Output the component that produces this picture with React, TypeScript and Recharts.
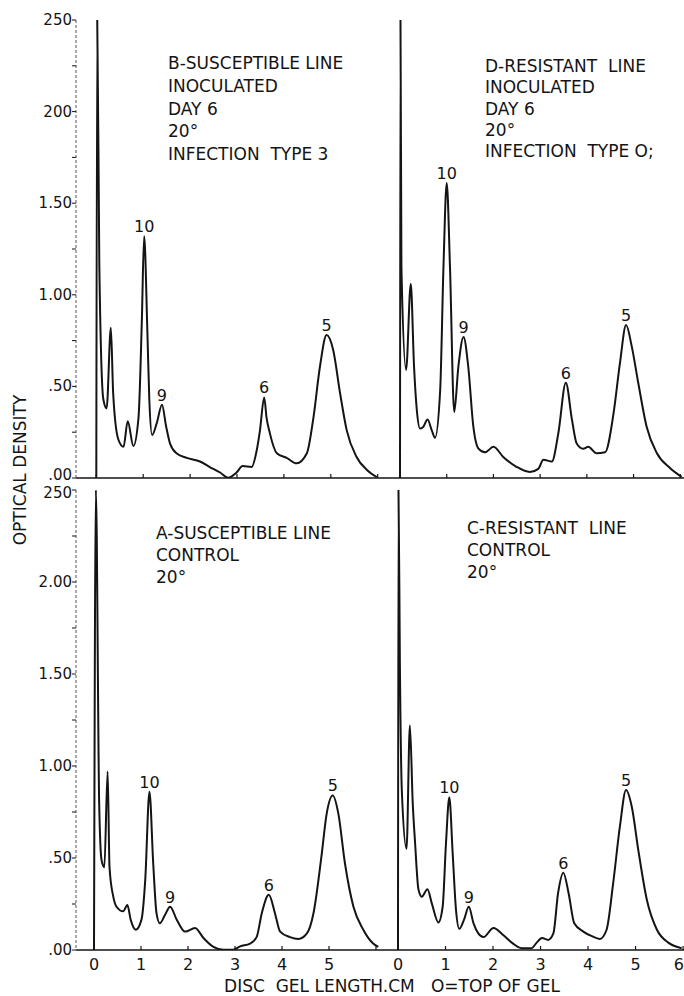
import { LineChart, Line, XAxis, YAxis, ReferenceDot } from "recharts";

const FONT = "'DejaVu Sans', 'Liberation Sans', sans-serif";
const INK = "#141414";

// axis ticks and their printed labels
const yTicks = [0, 0.25, 0.5, 0.75, 1, 1.25, 1.5, 1.75, 2, 2.25, 2.5];
const yLabelsTop = [".00", "", ".50", "", "1.00", "", "1.50", "", "200", "", "250"];
const yLabelsBottom = [".00", "", ".50", "", "1.00", "", "1.50", "", "2.00", "", "250"];
const xTicks = [0, 1, 2, 3, 4, 5, 6];
const xLabelsLeft = ["0", "1", "2", "3", "4", "5", ""];
const xLabelsRight = ["0", "1", "2", "3", "4", "5", "6"];

const peakNames = ["10", "9", "6", "5"];

// B - susceptible line, inoculated
const bCm = [0, 0.02, 0.064, 0.15, 0.22, 0.31, 0.36, 0.47, 0.58, 0.67, 0.79, 0.9, 0.97, 1.02, 1.09, 1.13, 1.19, 1.29, 1.4, 1.49, 1.57, 1.71, 1.93, 2.21, 2.42, 2.64, 2.81, 2.99, 3.12, 3.31, 3.42, 3.49, 3.58, 3.63, 3.7, 3.85, 4.06, 4.27, 4.49, 4.63, 4.77, 4.91, 5.05, 5.2, 5.34, 5.55, 5.77, 5.98];
const bOd = [0, 2.5, 1.17, 0.43, 0.38, 0.82, 0.46, 0.21, 0.17, 0.31, 0.175, 0.33, 0.85, 1.32, 0.79, 0.43, 0.235, 0.3, 0.4, 0.28, 0.19, 0.135, 0.11, 0.09, 0.06, 0.03, 0.002, 0.03, 0.065, 0.06, 0.15, 0.26, 0.44, 0.33, 0.245, 0.135, 0.11, 0.08, 0.135, 0.33, 0.61, 0.78, 0.7, 0.46, 0.26, 0.115, 0.044, 0.005];
const bPeaks = [1.02, 1.4, 3.58, 4.91];

// D - resistant line, inoculated
const dCm = [0, 0.01, 0.03, 0.13, 0.23, 0.3, 0.36, 0.43, 0.5, 0.59, 0.68, 0.75, 0.86, 0.93, 1.0, 1.07, 1.16, 1.25, 1.36, 1.46, 1.57, 1.68, 1.82, 2.0, 2.21, 2.5, 2.78, 2.96, 3.07, 3.25, 3.39, 3.55, 3.68, 3.78, 3.92, 4.03, 4.21, 4.39, 4.57, 4.71, 4.84, 4.96, 5.1, 5.28, 5.5, 5.78, 6.03];
const dOd = [0, 2.5, 1.15, 0.59, 1.06, 0.61, 0.37, 0.27, 0.28, 0.32, 0.26, 0.22, 0.48, 1.15, 1.61, 1.15, 0.36, 0.61, 0.77, 0.61, 0.28, 0.16, 0.14, 0.17, 0.115, 0.06, 0.033, 0.05, 0.1, 0.09, 0.245, 0.52, 0.32, 0.19, 0.16, 0.17, 0.135, 0.14, 0.35, 0.63, 0.835, 0.72, 0.52, 0.28, 0.135, 0.055, 0.006];
const dPeaks = [1.0, 1.36, 3.55, 4.84];

// A - susceptible line, control
const aCm = [0, 0.04, 0.11, 0.16, 0.22, 0.29, 0.33, 0.41, 0.48, 0.62, 0.71, 0.78, 0.89, 1.01, 1.09, 1.18, 1.26, 1.33, 1.4, 1.51, 1.62, 1.76, 1.94, 2.15, 2.33, 2.54, 2.75, 2.96, 3.11, 3.32, 3.46, 3.57, 3.72, 3.85, 3.96, 4.17, 4.35, 4.53, 4.67, 4.84, 4.95, 5.08, 5.2, 5.34, 5.52, 5.73, 5.94, 6.05];
const aOd = [0, 2.5, 0.8, 0.49, 0.45, 0.97, 0.45, 0.29, 0.235, 0.21, 0.245, 0.165, 0.11, 0.165, 0.38, 0.86, 0.47, 0.2, 0.145, 0.19, 0.235, 0.165, 0.1, 0.12, 0.065, 0.017, 0.002, 0.002, 0.02, 0.035, 0.07, 0.2, 0.3, 0.2, 0.1, 0.07, 0.06, 0.09, 0.2, 0.51, 0.74, 0.84, 0.74, 0.47, 0.235, 0.11, 0.035, 0.017];
const aPeaks = [1.18, 1.62, 3.72, 5.08];

// C - resistant line, control
const cCm = [0, 0.01, 0.04, 0.08, 0.18, 0.25, 0.31, 0.36, 0.43, 0.5, 0.62, 0.71, 0.85, 0.94, 1.01, 1.08, 1.15, 1.22, 1.29, 1.39, 1.49, 1.59, 1.69, 1.8, 2.01, 2.22, 2.43, 2.6, 2.81, 2.92, 3.03, 3.16, 3.27, 3.37, 3.48, 3.59, 3.71, 3.9, 4.08, 4.25, 4.39, 4.53, 4.67, 4.8, 4.92, 5.06, 5.24, 5.45, 5.69, 5.97];
const cOd = [0, 2.5, 1.54, 0.87, 0.55, 1.22, 0.8, 0.58, 0.33, 0.29, 0.33, 0.255, 0.15, 0.235, 0.58, 0.83, 0.53, 0.22, 0.115, 0.165, 0.235, 0.145, 0.09, 0.07, 0.12, 0.08, 0.033, 0.01, 0.01, 0.04, 0.065, 0.055, 0.09, 0.31, 0.42, 0.31, 0.145, 0.1, 0.075, 0.06, 0.11, 0.365, 0.67, 0.87, 0.78, 0.54, 0.27, 0.11, 0.04, 0.01];
const cPeaks = [1.08, 1.49, 3.48, 4.8];

const makeYTick = (labels: string[], bottom: boolean) => (props: any) => {
  const { x, y, payload } = props;
  const idx = yTicks.indexOf(payload.value);
  const label = labels[idx] ?? "";
  if (!label) return <g />;
  // nudge the end labels apart where the two rows meet
  let shift = 0;
  if (!bottom && idx === 0) shift = -3;
  if (bottom && idx === yTicks.length - 1) shift = 3;
  return (
    <text x={x} y={y + shift} textAnchor="end" dominantBaseline="central" fontSize={15} fill={INK} fontFamily={FONT}>
      {label}
    </text>
  );
};

const makeXTick = (labels: string[] | null) => (props: any) => {
  const { x, y, payload } = props;
  const idx = xTicks.indexOf(payload.value);
  const label = labels ? labels[idx] ?? "" : "";
  const last = idx === xTicks.length - 1;
  // tick mark points up into the plot, label sits below the axis
  return (
    <g>
      <line x1={x} x2={x} y1={y - 6} y2={y - 10} stroke={INK} strokeWidth={1.2} />
      {label && (
        <text
          x={last ? x + 1 : x}
          y={y + 8}
          textAnchor={last ? "end" : "middle"}
          dominantBaseline="central"
          fontSize={16}
          fill={INK}
          fontFamily={FONT}
        >
          {label}
        </text>
      )}
    </g>
  );
};

type PanelProps = {
  cm: number[];
  od: number[];
  peaks: number[];
  left: number;
  top: number;
  right: boolean;
  bottom: boolean;
  xDomain: [number, number];
};

function Panel({ cm, od, peaks, left, top, right, bottom, xDomain }: PanelProps) {
  const data = cm.map((x, i) => ({ cm: x, od: od[i] }));
  const width = right ? 315 : 379;
  const height = bottom ? 510 : 488;
  const xLabels = bottom ? (right ? xLabelsRight : xLabelsLeft) : null;
  return (
    <div style={{ position: "absolute", left, top }}>
      <LineChart
        width={width}
        height={height}
        data={data}
        margin={{ top: 20, right: 0, bottom: 0, left: right ? 10 : 0 }}
      >
        <XAxis
          dataKey="cm"
          type="number"
          domain={xDomain}
          allowDataOverflow
          ticks={xTicks}
          interval={0}
          height={bottom ? 30 : 10}
          axisLine={{ stroke: INK, strokeWidth: 1.5 }}
          tickLine={false}
          tickSize={0}
          tickMargin={6}
          tick={makeXTick(xLabels)}
        />
        <YAxis
          type="number"
          domain={[0, 2.5]}
          allowDataOverflow
          ticks={yTicks}
          interval={0}
          width={right ? 0 : 76}
          mirror={right}
          axisLine={
            right
              ? { stroke: INK, strokeWidth: 1.5 }
              : { stroke: "#555", strokeWidth: 1, strokeDasharray: "3 2" }
          }
          tickLine={{ stroke: INK, strokeWidth: 1 }}
          tickSize={4}
          tickMargin={0}
          tick={right ? false : makeYTick(bottom ? yLabelsBottom : yLabelsTop, bottom)}
        />
        <Line
          type="monotone"
          dataKey="od"
          stroke={INK}
          strokeWidth={2}
          dot={false}
          isAnimationActive={false}
        />
        {peaks.map((p, i) => (
          <ReferenceDot
            key={peakNames[i]}
            x={p}
            y={od[cm.indexOf(p)]}
            r={0}
            fill="none"
            stroke="none"
            label={{ value: peakNames[i], position: "top", offset: 4, fontSize: 16, fill: INK, fontFamily: FONT }}
          />
        ))}
      </LineChart>
    </div>
  );
}

const titleStyle = (left: number, top: number, lineHeight: number): React.CSSProperties => ({
  position: "absolute",
  left,
  top,
  fontFamily: FONT,
  fontSize: 17,
  lineHeight: `${lineHeight}px`,
  color: INK,
  whiteSpace: "pre",
});

export default function App() {
  return (
    <div style={{ position: "absolute", left: 0, top: 0, width: 684, height: 996, background: "#fff", overflow: "hidden" }}>
      <Panel cm={bCm} od={bOd} peaks={bPeaks} left={0} top={0} right={false} bottom={false} xDomain={[-0.433, 6.028]} />
      <Panel cm={dCm} od={dOd} peaks={dPeaks} left={369} top={0} right bottom={false} xDomain={[-0.45, 6.08]} />
      <Panel cm={aCm} od={aOd} peaks={aPeaks} left={0} top={470} right={false} bottom xDomain={[-0.383, 6.064]} />
      <Panel cm={cCm} od={cOd} peaks={cPeaks} left={369} top={470} right bottom xDomain={[-0.4, 6.02]} />

      <div style={titleStyle(168, 52, 22.75)}>
        {"B-SUSCEPTIBLE LINE\nINOCULATED\nDAY 6\n20°\nINFECTION  TYPE 3"}
      </div>
      <div style={titleStyle(485, 56, 21.25)}>
        {"D-RESISTANT  LINE\nINOCULATED\nDAY 6\n20°\nINFECTION  TYPE O;"}
      </div>
      <div style={titleStyle(156, 522, 22)}>{"A-SUSCEPTIBLE LINE\nCONTROL\n20°"}</div>
      <div style={titleStyle(467, 517, 22)}>{"C-RESISTANT  LINE\nCONTROL\n20°"}</div>

      <div
        style={{
          position: "absolute",
          left: 20,
          top: 470,
          transform: "translate(-50%, -50%) rotate(-90deg)",
          fontFamily: FONT,
          fontSize: 17,
          color: INK,
          whiteSpace: "nowrap",
        }}
      >
        OPTICAL DENSITY
      </div>
      <div
        style={{
          position: "absolute",
          left: 392,
          top: 986,
          transform: "translate(-50%, -50%)",
          fontFamily: FONT,
          fontSize: 17,
          color: INK,
          whiteSpace: "pre",
        }}
      >
        {"DISC  GEL LENGTH.CM   O=TOP OF GEL"}
      </div>
    </div>
  );
}
